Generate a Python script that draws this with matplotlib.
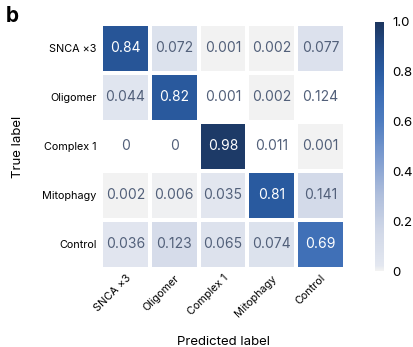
import numpy as np
import matplotlib
matplotlib.use('Agg')
import matplotlib.pyplot as plt
from matplotlib.colors import LinearSegmentedColormap

plt.rcParams['font.family'] = ['Inter', 'DejaVu Sans']

labels = ['SNCA ×3', 'Oligomer', 'Complex 1', 'Mitophagy', 'Control']

# rows = true label, columns = predicted label
conf = [
    [0.84, 0.072, 0.001, 0.002, 0.077],
    [0.044, 0.82, 0.001, 0.002, 0.124],
    [0, 0, 0.98, 0.011, 0.001],
    [0.002, 0.006, 0.035, 0.81, 0.141],
    [0.036, 0.123, 0.065, 0.074, 0.69],
]
conf_text = [
    ['0.84', '0.072', '0.001', '0.002', '0.077'],
    ['0.044', '0.82', '0.001', '0.002', '0.124'],
    ['0', '0', '0.98', '0.011', '0.001'],
    ['0.002', '0.006', '0.035', '0.81', '0.141'],
    ['0.036', '0.123', '0.065', '0.074', '0.69'],
]
# cells left unfilled
blank = [
    [0, 0, 0, 0, 0],
    [0, 0, 1, 0, 1],
    [1, 1, 0, 1, 0],
    [0, 0, 0, 0, 0],
    [0, 0, 0, 0, 0],
]

cmap = LinearSegmentedColormap.from_list('cm', [
    (0.0, '#f2f2f2'), (0.02, '#e3e7f0'), (0.15, '#d2d9e8'),
    (0.3, '#b0bfdc'), (0.45, '#7f9dd0'), (0.6, '#4f7dc0'),
    (0.7, '#3e6fb6'), (0.8, '#2a5ca2'), (0.88, '#254f8d'),
    (1.0, '#1c365f')])
cmap.set_bad('white')

data = np.ma.masked_array(np.array(conf), mask=np.array(blank, dtype=bool))

fig = plt.figure(figsize=(4.14, 3.47), dpi=100)
ax = fig.add_axes([0.244, 0.2248, 0.5894, 0.7061])
mesh = ax.pcolormesh(data, cmap=cmap, vmin=0, vmax=1,
                     edgecolor='white', linewidth=1.6)
ax.set_xlim(0, 5)
ax.set_ylim(5, 0)

for i in range(5):
    for j in range(5):
        c = 'white' if conf[i][j] > 0.5 else '#52607a'
        ax.text(j + 0.5, i + 0.5, conf_text[i][j], ha='center', va='center',
                fontsize=10, color=c)

ax.set_xticks(np.arange(5) + 0.5)
ax.set_yticks(np.arange(5) + 0.5)
ax.set_xticklabels(labels, rotation=45, ha='right', rotation_mode='anchor',
                   fontsize=7.8)
ax.set_yticklabels(labels, fontsize=7.8)
ax.tick_params(length=0, pad=3)
for s in ax.spines.values():
    s.set_visible(False)

ax.set_xlabel('Predicted label', fontsize=9.5)
ax.set_ylabel('True label', fontsize=9.5)
ax.xaxis.set_label_coords(0.5, -0.275)
ax.yaxis.set_label_coords(-0.315, 0.5)

cax = fig.add_axes([0.906, 0.219, 0.021, 0.718])
cb = fig.colorbar(mesh, cax=cax, ticks=[0, 0.2, 0.4, 0.6, 0.8, 1.0])
cb.ax.set_yticklabels(['0', '0.2', '0.4', '0.6', '0.8', '1.0'], fontsize=9.5)
cb.ax.tick_params(length=0, pad=6)
cb.outline.set_visible(False)

fig.text(0.015, 0.955, 'b', fontsize=15, fontweight='bold', va='center')

fig.savefig('out.png', dpi=100)
